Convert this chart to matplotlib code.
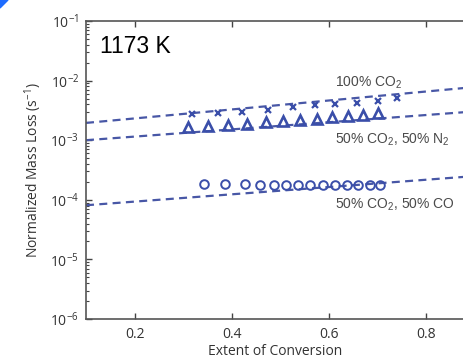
import math
import matplotlib
matplotlib.use("Agg")
import matplotlib.pyplot as plt
from matplotlib.ticker import FixedLocator, LogLocator, FuncFormatter, NullFormatter
from matplotlib.patches import Polygon

# measured points, 1173 K
co2_x = [0.319, 0.371, 0.422, 0.475, 0.527, 0.572, 0.613, 0.658, 0.700, 0.741]
co2_y = [2.75e-3, 2.86e-3, 2.97e-3, 3.21e-3, 3.61e-3, 3.90e-3, 4.05e-3, 4.21e-3, 4.55e-3, 5.10e-3]

n2_x = [0.309, 0.352, 0.393, 0.432, 0.471, 0.506, 0.541, 0.576, 0.607, 0.640, 0.671, 0.702]
n2_y = [1.66e-3, 1.73e-3, 1.80e-3, 1.87e-3, 2.02e-3, 2.10e-3, 2.18e-3, 2.27e-3, 2.45e-3, 2.55e-3, 2.65e-3, 2.86e-3]

co_x = [0.342, 0.387, 0.428, 0.459, 0.486, 0.512, 0.537, 0.562, 0.588, 0.613, 0.638, 0.660, 0.685, 0.706]
co_y = [1.86e-4, 1.84e-4, 1.82e-4, 1.80e-4, 1.80e-4, 1.79e-4, 1.79e-4, 1.78e-4, 1.78e-4, 1.78e-4, 1.78e-4, 1.79e-4, 1.80e-4, 1.80e-4]

# fitted lines (end points)
fit_x = [0.1, 0.9]
fit_co2 = [1.95e-3, 7.8e-3]
fit_n2 = [1.0e-3, 3.04e-3]
fit_co = [8.1e-5, 2.5e-4]

marker_color = "#3a4ea9"
line_color = "#4857a6"
text_gray = "#4a4a4a"

plt.rcParams["mathtext.default"] = "regular"

fig = plt.figure(figsize=(4.64, 3.62), dpi=100)
ax = fig.add_axes([86 / 464, 43 / 362, 1 - 86 / 464, 298 / 362])

dash = dict(color=line_color, lw=1.6, dashes=(3.6, 2.4))
ax.plot(fit_x, fit_co2, **dash)
ax.plot(fit_x, fit_n2, **dash)
ax.plot(fit_x, fit_co, **dash)

ax.plot(co2_x, co2_y, "x", color=marker_color, ms=5, mew=1.6, ls="none")
ax.plot(n2_x, n2_y, "^", color=marker_color, ms=7.5, mew=1.9, mfc="none", ls="none")
ax.plot(co_x, co_y, "o", color=marker_color, ms=6.2, mew=1.4, mfc="none", ls="none")

ax.set_yscale("log")
ax.set_xlim(0.1, 0.878)
ax.set_ylim(1e-6, 1e-1)

ax.xaxis.set_major_locator(FixedLocator([0.2, 0.4, 0.6, 0.8]))
ax.yaxis.set_major_locator(FixedLocator([1e-6, 1e-5, 1e-4, 1e-3, 1e-2, 1e-1]))
ax.yaxis.set_minor_locator(LogLocator(base=10, subs=range(2, 10)))
ax.yaxis.set_minor_formatter(NullFormatter())
ax.yaxis.set_major_formatter(FuncFormatter(lambda v, p: r"$10^{%d}$" % round(math.log10(v))))

for lab in ax.get_xticklabels() + ax.get_yticklabels():
    lab.set_fontfamily("Open Sans")
    lab.set_fontsize(10)
    lab.set_color("#333333")

ax.tick_params(which="both", direction="in", top=True, right=False, color="#444444")
ax.tick_params(which="major", length=4, width=1)
ax.tick_params(which="minor", length=2, width=0.8)
ax.tick_params(axis="x", pad=6)
ax.tick_params(axis="y", pad=5)

for side in ["left", "bottom", "top"]:
    ax.spines[side].set_color("#555555")
    ax.spines[side].set_linewidth(1.2)
ax.spines["right"].set_visible(False)

ax.set_xlabel("Extent of Conversion", fontfamily="Open Sans", fontsize=10, color="#333333", labelpad=1)
ax.set_ylabel("Normalized Mass Loss (s$^{-1}$)", fontfamily="Open Sans", fontsize=10, color="#333333", labelpad=4)

ax.text(0.037, 0.913, "1173 K", transform=ax.transAxes, fontfamily="Liberation Sans",
        fontsize=16.5, color="black", va="center", ha="left")

lab_font = dict(fontfamily="Liberation Sans", fontsize=10, color=text_gray, va="center", ha="left")
ax.text(0.613, 9.1e-3, "100% CO$_2$", **lab_font)
ax.text(0.613, 1.0e-3, "50% CO$_2$, 50% N$_2$", **lab_font)
ax.text(0.613, 8.2e-5, "50% CO$_2$, 50% CO", **lab_font)

# small blue corner tab
fig.patches.append(Polygon([(0, 1), (8 / 464, 1), (0, 1 - 8 / 362)], closed=True,
                           transform=fig.transFigure, color="#1e6cff"))

fig.savefig("out.png", dpi=100)
